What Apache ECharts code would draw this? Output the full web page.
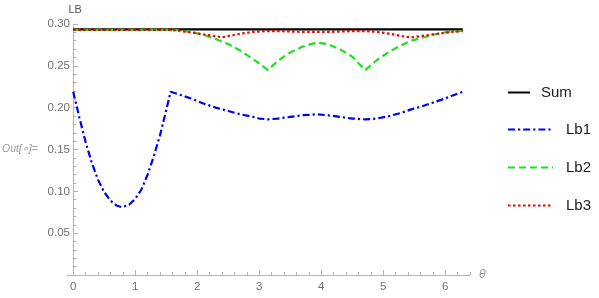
<!DOCTYPE html>
<html><head><meta charset="utf-8">
<script src="https://cdn.jsdelivr.net/npm/echarts@6/dist/echarts.min.js"></script>
<style>html,body{margin:0;padding:0;background:#fff}#c{width:599px;height:298px}</style>
</head><body><div id="c"></div>
<script>
const theta = [0,0.1,0.2,0.3,0.4,0.5,0.6,0.7,0.785,0.9,1.0,1.1,1.2,1.3,1.4,1.5,1.571,1.7,1.9,2.1,2.3,2.4,2.5,2.7,2.9,3.0,3.142,3.3,3.5,3.7,3.927,4.1,4.3,4.5,4.712,4.9,5.1,5.3,5.45,5.6,5.8,6.0,6.1,6.283];
const sumVals = [0.2935,0.2935,0.2935,0.2935,0.2935,0.2935,0.2935,0.2935,0.2935,0.2935,0.2935,0.2935,0.2935,0.2935,0.2935,0.2935,0.2935,0.2935,0.2935,0.2935,0.2935,0.2935,0.2935,0.2935,0.2935,0.2935,0.2935,0.2935,0.2935,0.2935,0.2935,0.2935,0.2935,0.2935,0.2935,0.2935,0.2935,0.2935,0.2935,0.2935,0.2935,0.2935,0.2935,0.2935];
const lb1 = [0.219,0.188,0.159,0.134,0.114,0.099,0.089,0.083,0.081,0.084,0.091,0.102,0.120,0.142,0.167,0.197,0.219,0.216,0.211,0.205,0.200,0.198,0.196,0.192,0.189,0.187,0.186,0.187,0.189,0.191,0.192,0.191,0.189,0.187,0.186,0.187,0.190,0.194,0.198,0.201,0.206,0.211,0.214,0.219];
const lb2 = [0.293,0.293,0.293,0.293,0.293,0.293,0.293,0.293,0.293,0.293,0.293,0.293,0.293,0.293,0.293,0.293,0.293,0.2925,0.2905,0.287,0.282,0.279,0.276,0.268,0.258,0.253,0.245,0.256,0.266,0.273,0.278,0.276,0.270,0.261,0.245,0.257,0.267,0.275,0.280,0.283,0.287,0.290,0.291,0.292];
const lb3 = [0.293,0.293,0.293,0.293,0.293,0.293,0.293,0.293,0.293,0.293,0.293,0.293,0.293,0.293,0.293,0.293,0.293,0.292,0.290,0.2875,0.2855,0.284,0.2855,0.2885,0.2905,0.291,0.2915,0.2915,0.291,0.2905,0.2905,0.2905,0.291,0.2915,0.2915,0.2905,0.2885,0.2855,0.284,0.2855,0.2875,0.2895,0.2905,0.2915];
const xMajor = [0,1,2,3,4,5,6];
const xMinor = [0.2,0.4,0.6,0.8,1.2,1.4,1.6,1.8,2.2,2.4,2.6,2.8,3.2,3.4,3.6,3.8,4.2,4.4,4.6,4.8,5.2,5.4,5.6,5.8,6.2,6.4];
const seriesNames = ['Sum','Lb1','Lb2','Lb3'];

const pairs = v => theta.map((t,i)=>[t,v[i]]);
const FONT = 'Liberation Sans, Arial, sans-serif';
const axisGray = '#b4b4b4';
const labelGray = '#707070';

const chart = echarts.init(document.getElementById('c'), null, {renderer:'canvas'});
function legendFor(name, top, w, pad){
  return {data:[name], left:507, top:top, padding:0, itemWidth:w, itemHeight:14,
    itemStyle:{opacity:0},
    lineStyle:{width:2},
    textStyle:{fontSize:15, color:'#1a1a1a', fontFamily:FONT, padding:[0,0,0,pad]},
    selectedMode:false};
}
chart.setOption({
  animation:false,
  grid:{left:67, right:129, top:24, bottom:23},
  legend:[legendFor('Sum',85,22,6), legendFor('Lb1',122,45,8), legendFor('Lb2',160,45,8), legendFor('Lb3',198,45,8)],
  xAxis:[{
    type:'value', min:-0.1, max:6.4, position:'bottom',
    axisLine:{show:true, onZero:true, lineStyle:{color:axisGray, width:1}},
    axisTick:{show:true, inside:true, length:5, customValues:xMajor, lineStyle:{color:axisGray}},
    axisLabel:{show:true, customValues:xMajor, color:labelGray, fontSize:11.5, fontFamily:FONT, margin:6},
    splitLine:{show:false},
    name:'θ', nameLocation:'end', nameGap:9,
    nameTextStyle:{color:'#999', fontStyle:'italic', fontSize:12, fontFamily:FONT}
  },{
    type:'value', min:-0.1, max:6.4, position:'bottom',
    axisLine:{show:false, onZero:true},
    axisTick:{show:true, inside:true, length:3, customValues:xMinor, lineStyle:{color:axisGray}},
    axisLabel:{show:false},
    splitLine:{show:false}
  }],
  yAxis:{
    type:'value', min:0, max:0.30, interval:0.05,
    axisLine:{show:true, onZero:true, lineStyle:{color:axisGray, width:1}},
    axisTick:{show:true, inside:true, length:5, lineStyle:{color:axisGray}},
    minorTick:{show:true, splitNumber:5, length:3, lineStyle:{color:axisGray}},
    axisLabel:{color:labelGray, fontSize:11.5, fontFamily:FONT, margin:-3, showMinLabel:false,
      formatter:v=>v.toFixed(2)},
    splitLine:{show:false},
    name:'LB', nameLocation:'end', nameGap:9,
    nameTextStyle:{color:'#555', fontSize:11, fontFamily:FONT, align:'center', padding:[0,0,0,4]}
  },
  graphic:[{type:'text', left:2, top:144,
    style:{text:'Out[∘]=', fill:'#9a9a9a', fontSize:10.5, fontStyle:'italic', fontFamily:FONT}}],
  series:[
    {name:seriesNames[0], type:'line', data:pairs(sumVals), symbol:'none', xAxisIndex:0,
      lineStyle:{color:'#000', width:2.2, type:'solid'}, itemStyle:{color:'#000'}, z:2},
    {name:seriesNames[1], type:'line', data:pairs(lb1), symbol:'none', xAxisIndex:0,
      lineStyle:{color:'#0000f0', width:2.2, type:[7,3,2.2,3]}, itemStyle:{color:'#0000f0'}, z:3},
    {name:seriesNames[2], type:'line', data:pairs(lb2), symbol:'none', xAxisIndex:0,
      lineStyle:{color:'#1ee01e', width:2.2, type:[7,4]}, itemStyle:{color:'#1ee01e'}, z:4},
    {name:seriesNames[3], type:'line', data:pairs(lb3), symbol:'none', xAxisIndex:0,
      lineStyle:{color:'#f00000', width:2.2, type:[2.5,2.5]}, itemStyle:{color:'#f00000'}, z:5}
  ]
});
</script></body></html>
